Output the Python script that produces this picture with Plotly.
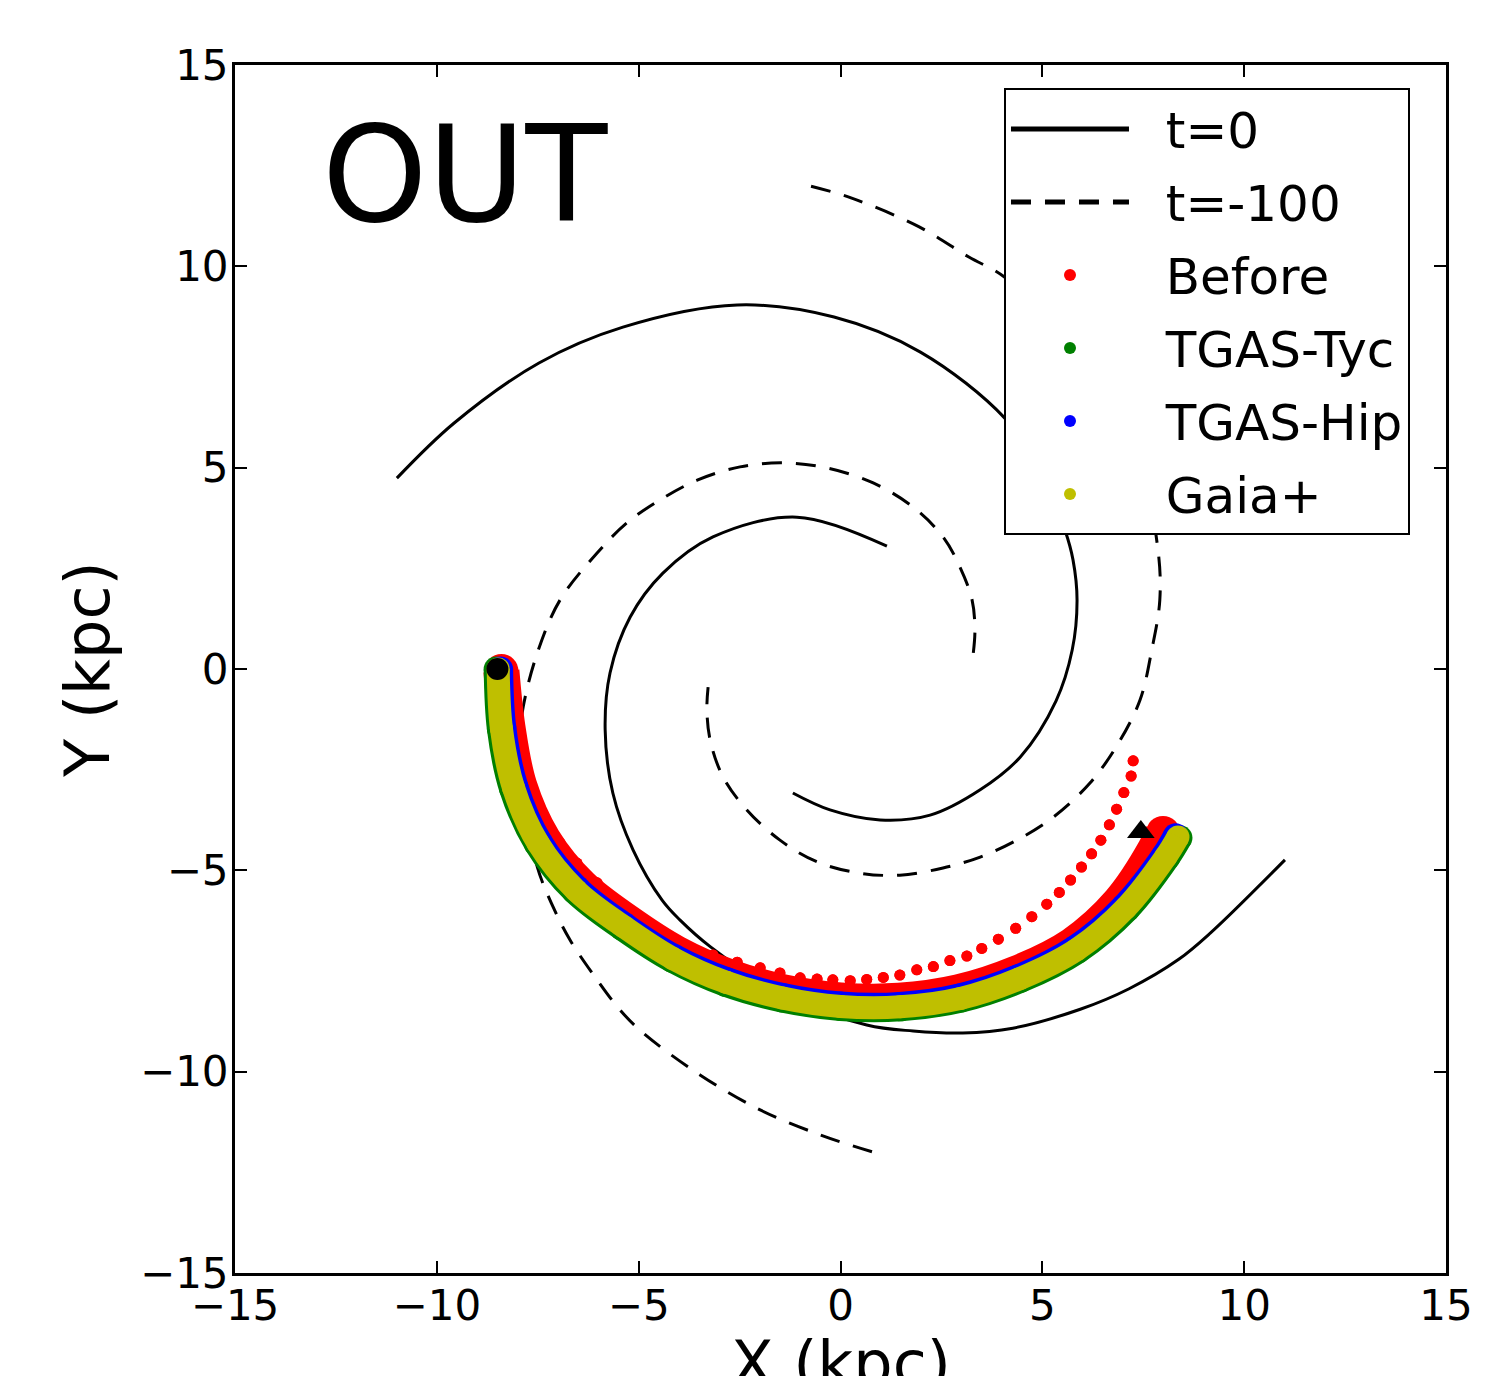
import plotly.graph_objects as go

# ---------------- data (kpc) ----------------
# t=0 spiral arms (solid)
ARM0_A_X = [-10.99, -9.57, -7.47, -5.39, -2.56, -0.16, 1.98, 4.07, 4.98, 5.56, 5.76, 5.86, 5.74, 5.34, 4.45, 3.46, 2.22, 0.98, -0.26, -1.18]
ARM0_A_Y = [4.74, 6.11, 7.60, 8.49, 9.04, 8.74, 7.87, 6.23, 4.88, 3.45, 2.71, 1.71, 0.47, -0.79, -2.19, -3.00, -3.63, -3.75, -3.50, -3.08]
ARM0_B_X = [1.15, -1.08, -3.16, -4.40, -5.21, -5.71, -5.83, -5.64, -5.14, -4.42, -3.98, -3.22, -1.42, 0.65, 1.80, 3.03, 4.27, 5.94, 7.15, 8.38, 9.16, 11.01]
ARM0_B_Y = [3.05, 3.77, 3.28, 2.38, 1.29, -0.10, -1.51, -3.08, -4.49, -5.74, -6.23, -6.90, -8.08, -8.84, -8.99, -9.04, -8.92, -8.45, -7.94, -7.21, -6.56, -4.74]

# t=-100 spiral arms (dashed)
ARM1_A_X = [-0.73, 0.26, 1.95, 3.18, 4.07, 6.07, 7.36, 7.86, 7.91, 7.71, 7.42, 6.85, 6.18, 5.27, 4.37, 3.46, 2.54, 1.47, 0.48, -0.58, -1.50, -2.32, -2.91, -3.23, -3.31, -3.28]
ARM1_A_Y = [11.99, 11.70, 10.98, 10.23, 9.73, 7.71, 5.33, 3.00, 1.71, 0.47, -0.77, -1.90, -2.83, -3.68, -4.25, -4.67, -4.94, -5.12, -5.07, -4.79, -4.25, -3.50, -2.68, -1.76, -1.00, -0.45]
ARM1_B_X = [3.29, 3.33, 3.26, 2.96, 2.54, 1.80, 0.81, -0.33, -1.42, -2.49, -3.55, -4.47, -5.29, -6.03, -6.95, -7.51, -7.86, -7.94, -7.82, -7.51, -7.12, -6.70, -6.03, -5.46, -4.89, -3.48, -1.99, -0.50, 0.78]
ARM1_B_Y = [0.40, 0.97, 1.71, 2.53, 3.28, 4.02, 4.62, 4.99, 5.12, 5.02, 4.69, 4.20, 3.63, 2.88, 1.71, 0.40, -0.94, -1.76, -3.32, -4.92, -5.91, -6.73, -7.72, -8.47, -9.04, -10.08, -10.95, -11.57, -11.99]

# Orbits
BEFORE_BAND_X = [-8.40, -8.25, -7.96, -7.36, -6.43, -5.28, -4.08, -2.78, -1.41, 0.00, 1.45, 2.92, 4.37, 5.75, 6.92, 7.79, 7.99]
BEFORE_BAND_Y = [-0.05, -1.45, -2.90, -4.25, -5.40, -6.29, -7.06, -7.64, -8.03, -8.23, -8.24, -8.03, -7.56, -6.86, -5.80, -4.50, -4.07]
BEFORE_OUT_X = [-8.43, -8.36, -8.24, -8.11, -7.86, -7.62, -7.27, -6.95, -6.53, -6.03, -5.46, -4.89, -4.30, -3.73, -3.16, -2.56, -1.99, -1.50, -1.00, -0.58, -0.19, 0.24, 0.65, 1.06, 1.47, 1.89, 2.30, 2.71, 3.13, 3.50, 3.91, 4.34, 4.74, 5.11, 5.42, 5.70, 5.97, 6.22, 6.45, 6.66, 6.84, 7.02, 7.20, 7.25]
BEFORE_OUT_Y = [-0.02, -0.52, -1.19, -1.76, -2.51, -3.18, -3.82, -4.32, -4.82, -5.31, -5.81, -6.31, -6.68, -6.93, -7.10, -7.28, -7.42, -7.55, -7.67, -7.70, -7.72, -7.74, -7.71, -7.66, -7.60, -7.47, -7.39, -7.24, -7.13, -6.94, -6.71, -6.44, -6.15, -5.84, -5.55, -5.24, -4.92, -4.59, -4.25, -3.87, -3.48, -3.07, -2.66, -2.28]
TYC_X = [-8.53, -8.45, -8.15, -7.53, -6.59, -5.41, -4.18, -2.85, -1.45, 0.00, 1.49, 2.99, 4.47, 5.88, 7.11, 8.11, 8.41]
TYC_Y = [0.00, -1.49, -2.97, -4.35, -5.53, -6.44, -7.23, -7.83, -8.22, -8.43, -8.44, -8.22, -7.73, -7.01, -5.97, -4.68, -4.19]
HIP_X = [-8.42, -8.34, -8.04, -7.44, -6.50, -5.34, -4.12, -2.81, -1.43, 0.00, 1.47, 2.95, 4.41, 5.81, 7.02, 8.01, 8.30]
HIP_Y = [0.00, -1.47, -2.93, -4.30, -5.46, -6.36, -7.14, -7.72, -8.11, -8.32, -8.33, -8.12, -7.64, -6.92, -5.89, -4.63, -4.14]
GAIA_X = [-8.48, -8.40, -8.10, -7.49, -6.55, -5.37, -4.15, -2.83, -1.44, 0.00, 1.48, 2.98, 4.44, 5.85, 7.07, 8.06, 8.36]
GAIA_Y = [0.00, -1.48, -2.95, -4.33, -5.50, -6.40, -7.19, -7.78, -8.17, -8.38, -8.39, -8.18, -7.69, -6.97, -5.93, -4.66, -4.17]

START_X, START_Y = [-8.50], [0.00]
END_X, END_Y = [7.44], [-4.05]

TICKS = [-15, -10, -5, 0, 5, 10, 15]

RED, GREEN, BLUE, YELLOW = "#ff0000", "#008000", "#0000ff", "#bfbf00"
FONT = "DejaVu Sans"
PAD = "\u00a0\u00a0"

fig = go.Figure()

# spiral arms
fig.add_trace(go.Scatter(x=ARM0_A_X, y=ARM0_A_Y, mode="lines", name=PAD + "t=0", legendgroup="t0",
                         line=dict(color="black", width=3, shape="spline")))
fig.add_trace(go.Scatter(x=ARM0_B_X, y=ARM0_B_Y, mode="lines", legendgroup="t0", showlegend=False,
                         line=dict(color="black", width=3, shape="spline")))
fig.add_trace(go.Scatter(x=ARM1_A_X, y=ARM1_A_Y, mode="lines", name=PAD + "t=-100", legendgroup="t100",
                         line=dict(color="black", width=3, shape="spline", dash="20px,14px")))
fig.add_trace(go.Scatter(x=ARM1_B_X, y=ARM1_B_Y, mode="lines", legendgroup="t100", showlegend=False,
                         line=dict(color="black", width=3, shape="spline", dash="20px,14px")))

# Before
fig.add_trace(go.Scatter(x=BEFORE_OUT_X, y=BEFORE_OUT_Y, mode="markers", name=PAD + "Before", legendgroup="before",
                         marker=dict(color=RED, size=11)))
fig.add_trace(go.Scatter(x=BEFORE_BAND_X, y=BEFORE_BAND_Y, mode="lines", legendgroup="before", showlegend=False,
                         line=dict(color=RED, width=36, shape="spline")))
fig.add_trace(go.Scatter(x=BEFORE_BAND_X, y=BEFORE_BAND_Y, mode="markers", legendgroup="before", showlegend=False,
                         marker=dict(color=RED, size=34)))
fig.add_trace(go.Scatter(x=BEFORE_OUT_X, y=BEFORE_OUT_Y, mode="markers", legendgroup="before", showlegend=False,
                         marker=dict(color=RED, size=11)))

# TGAS-Tyc, TGAS-Hip, Gaia+
for xs, ys, col, nm, w in [(TYC_X, TYC_Y, GREEN, "TGAS-Tyc", 25),
                           (HIP_X, HIP_Y, BLUE, "TGAS-Hip", 25),
                           (GAIA_X, GAIA_Y, YELLOW, "Gaia+", 23)]:
    fig.add_trace(go.Scatter(x=xs, y=ys, mode="markers", name=PAD + nm, legendgroup=nm,
                             marker=dict(color=col, size=w)))
    fig.add_trace(go.Scatter(x=xs, y=ys, mode="lines", legendgroup=nm, showlegend=False,
                             line=dict(color=col, width=w, shape="spline")))

fig.add_trace(go.Scatter(x=START_X, y=START_Y, mode="markers", showlegend=False,
                         marker=dict(color="black", size=22)))
fig.add_trace(go.Scatter(x=END_X, y=END_Y, mode="markers", showlegend=False,
                         marker=dict(color="black", size=24, symbol="triangle-up")))

ticktext = [("\u2212" + str(-t)) if t < 0 else str(t) for t in TICKS]
axis_common = dict(range=[-15, 15], tickvals=TICKS, ticktext=ticktext,
                   ticks="inside", ticklen=12, tickwidth=2, tickcolor="black",
                   showline=True, linewidth=3, linecolor="black", mirror="ticks",
                   showgrid=False, zeroline=False, tickfont=dict(family=FONT, size=42, color="black"),
                   automargin=False)

fig.update_layout(
    width=1504, height=1368,
    margin=dict(l=227, r=66, t=57, b=103, autoexpand=False),
    plot_bgcolor="white", paper_bgcolor="white",
    font=dict(family=FONT, color="black"),
    xaxis=dict(axis_common, ticklabelstandoff=-6),
    yaxis=dict(axis_common, ticklabelstandoff=-5,
               title=dict(text="Y (kpc)", font=dict(family=FONT, size=62), standoff=11)),
    legend=dict(x=0.635, y=0.981, xanchor="left", yanchor="top",
                bgcolor="white", bordercolor="black", borderwidth=2,
                font=dict(family=FONT, size=50, color="black"),
                itemsizing="constant", itemwidth=118, tracegroupgap=5),
    annotations=[
        dict(text="OUT", xref="paper", yref="paper", x=0.0702, y=0.9089,
             xanchor="left", yanchor="middle", showarrow=False,
             font=dict(family=FONT, size=134, color="black")),
        dict(text="X (kpc)", xref="paper", yref="paper", x=0.5, y=-0.0753,
             xanchor="center", yanchor="middle", showarrow=False,
             font=dict(family=FONT, size=62, color="black")),
    ],
    hovermode=False,
)

fig.write_html("out.html")
